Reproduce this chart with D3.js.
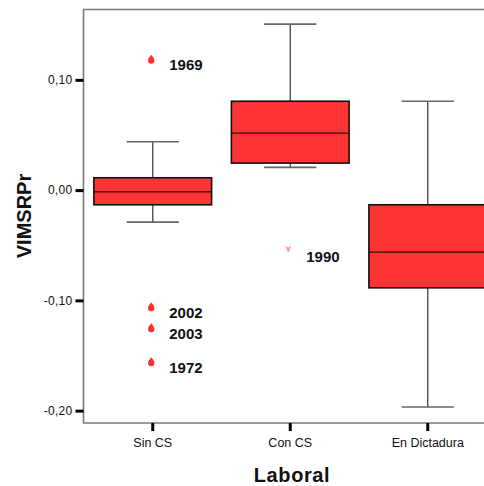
<!DOCTYPE html>
<html>
<head>
<meta charset="utf-8">
<script src="https://cdn.jsdelivr.net/npm/d3@7/dist/d3.min.js"></script>
<style>
  html, body { margin: 0; padding: 0; background: #fff; }
  svg { display: block; font-family: "Liberation Sans", Arial, sans-serif; }
</style>
</head>
<body>
<svg id="chart" width="484" height="486"></svg>
<script>
// Box plot of VIMSRPr by labour period
const categories = ["Sin CS", "Con CS", "En Dictadura"];
const whiskerLow  = [-0.029, 0.0206, -0.1967];
const q1          = [-0.0133, 0.0245, -0.0886];
const median      = [-0.0015, 0.0516, -0.0562];
const q3          = [0.0112, 0.0806, -0.0133];
const whiskerHigh = [0.0438, 0.1505, 0.0806];

// Outliers (circle-like drops) and extremes (asterisks)
const outlierCat   = ["Sin CS", "Sin CS", "Sin CS", "Sin CS"];
const outlierVal   = [0.1187, -0.1058, -0.1248, -0.1557];
const outlierLabel = ["1969", "2002", "2003", "1972"];
const extremeCat   = ["Con CS"];
const extremeVal   = [-0.0535];
const extremeLabel = ["1990"];

const yTicks = [0.10, 0.00, -0.10, -0.20];
const yTitle = "VIMSRPr";
const xTitle = "Laboral";

const svg = d3.select("#chart");
const plot = { left: 83.5, top: 9.5, right: 497, bottom: 423 };

const x = d3.scaleBand().domain(categories).range([84, 496.5]).padding(0);
const y = d3.scaleLinear().domain([-0.2112, 0.1638]).range([plot.bottom, plot.top]);

const locale = d3.formatLocale({ decimal: ",", thousands: ".", grouping: [3], currency: ["", ""], minus: "-" });
const fmt = locale.format(".2f");

const boxes = categories.map((c, i) => ({
  cat: c, lo: whiskerLow[i], q1: q1[i], med: median[i], q3: q3[i], hi: whiskerHigh[i]
}));

const bw = x.bandwidth();
const boxW = bw * 0.856;
const capW = bw * 0.38;
const cx = c => x(c) + bw / 2;

// Frame
svg.append("path")
  .attr("d", `M${plot.right},${plot.top}H${plot.left}V${plot.bottom}H${plot.right}`)
  .attr("fill", "none").attr("stroke", "#7a7a7a").attr("stroke-width", 1.6);

// Y axis
const yAxis = d3.axisLeft(y).tickValues(yTicks).tickFormat(fmt).tickSize(8).tickPadding(3);
const gy = svg.append("g").attr("transform", `translate(${plot.left},0)`).call(yAxis);
gy.select(".domain").remove();
gy.selectAll(".tick line").attr("stroke", "#000").attr("stroke-width", 3);
gy.selectAll(".tick text").attr("font-size", 12).attr("fill", "#111")
  .attr("font-family", "'Liberation Sans', Arial, sans-serif").attr("letter-spacing", 0.3);

// X axis
const xAxis = d3.axisBottom(x).tickSize(8).tickPadding(7);
const gx = svg.append("g").attr("transform", `translate(0,${plot.bottom})`).call(xAxis);
gx.select(".domain").remove();
gx.selectAll(".tick line").attr("stroke", "#000").attr("stroke-width", 3);
gx.selectAll(".tick text").attr("font-size", 12.5).attr("fill", "#111")
  .attr("font-family", "'Liberation Sans', Arial, sans-serif");

// Whiskers
const g = svg.append("g");
g.selectAll("line.stem").data(boxes).join("line")
  .attr("x1", d => cx(d.cat)).attr("x2", d => cx(d.cat))
  .attr("y1", d => y(d.hi)).attr("y2", d => y(d.lo))
  .attr("stroke", "#444").attr("stroke-width", 1.3);
g.selectAll("line.capHi").data(boxes).join("line")
  .attr("x1", d => cx(d.cat) - capW / 2).attr("x2", d => cx(d.cat) + capW / 2)
  .attr("y1", d => y(d.hi)).attr("y2", d => y(d.hi))
  .attr("stroke", "#666").attr("stroke-width", 1.6);
g.selectAll("line.capLo").data(boxes).join("line")
  .attr("x1", d => cx(d.cat) - capW / 2).attr("x2", d => cx(d.cat) + capW / 2)
  .attr("y1", d => y(d.lo)).attr("y2", d => y(d.lo))
  .attr("stroke", "#666").attr("stroke-width", 1.6);

// Boxes
g.selectAll("rect.box").data(boxes).join("rect")
  .attr("x", d => cx(d.cat) - boxW / 2).attr("width", boxW)
  .attr("y", d => y(d.q3)).attr("height", d => y(d.q1) - y(d.q3))
  .attr("fill", "#ff3535").attr("stroke", "#111").attr("stroke-width", 1.6);
g.selectAll("line.med").data(boxes).join("line")
  .attr("x1", d => cx(d.cat) - boxW / 2).attr("x2", d => cx(d.cat) + boxW / 2)
  .attr("y1", d => y(d.med)).attr("y2", d => y(d.med))
  .attr("stroke", "#3a0d0d").attr("stroke-width", 1.3);

// Outlier drops
const outliers = outlierVal.map((v, i) => ({ cat: outlierCat[i], v, label: outlierLabel[i] }));
const drop = "M0,-4.5C1,-3 3.2,-1 3.2,1.2A3.2,3.2 0 0 1 -3.2,1.2C-3.2,-1 -1,-3 0,-4.5Z";
g.selectAll("path.out").data(outliers).join("path")
  .attr("transform", d => `translate(${cx(d.cat) - 1.5},${y(d.v)})`)
  .attr("d", drop).attr("fill", "#ff3030");
g.selectAll("text.outLab").data(outliers).join("text")
  .attr("x", d => cx(d.cat) + 16.5).attr("y", d => y(d.v) + 11)
  .attr("font-size", 15).attr("font-weight", "bold").attr("fill", "#111")
  .text(d => d.label);

// Extreme asterisks
const extremes = extremeVal.map((v, i) => ({ cat: extremeCat[i], v, label: extremeLabel[i] }));
const star = "M-2.5,-3L0,0L2.5,-3M0,0V3M-2,1H2M-2,-1.2H2";
g.selectAll("path.ext").data(extremes).join("path")
  .attr("transform", d => `translate(${cx(d.cat) - 2},${y(d.v)})`)
  .attr("d", star).attr("fill", "none").attr("stroke", "#f08080").attr("stroke-width", 0.9);
g.selectAll("text.extLab").data(extremes).join("text")
  .attr("x", d => cx(d.cat) + 16).attr("y", d => y(d.v) + 13)
  .attr("font-size", 15).attr("font-weight", "bold").attr("fill", "#111")
  .text(d => d.label);

// Axis titles
svg.append("text")
  .attr("transform", `translate(${31},${216}) rotate(-90)`)
  .attr("text-anchor", "middle").attr("font-size", 20).attr("font-weight", "bold").attr("fill", "#111")
  .text(yTitle);
svg.append("text")
  .attr("x", 292).attr("y", 482)
  .attr("text-anchor", "middle").attr("font-size", 20).attr("font-weight", "bold").attr("fill", "#111")
  .attr("letter-spacing", 0.6)
  .text(xTitle);
</script>
</body>
</html>
